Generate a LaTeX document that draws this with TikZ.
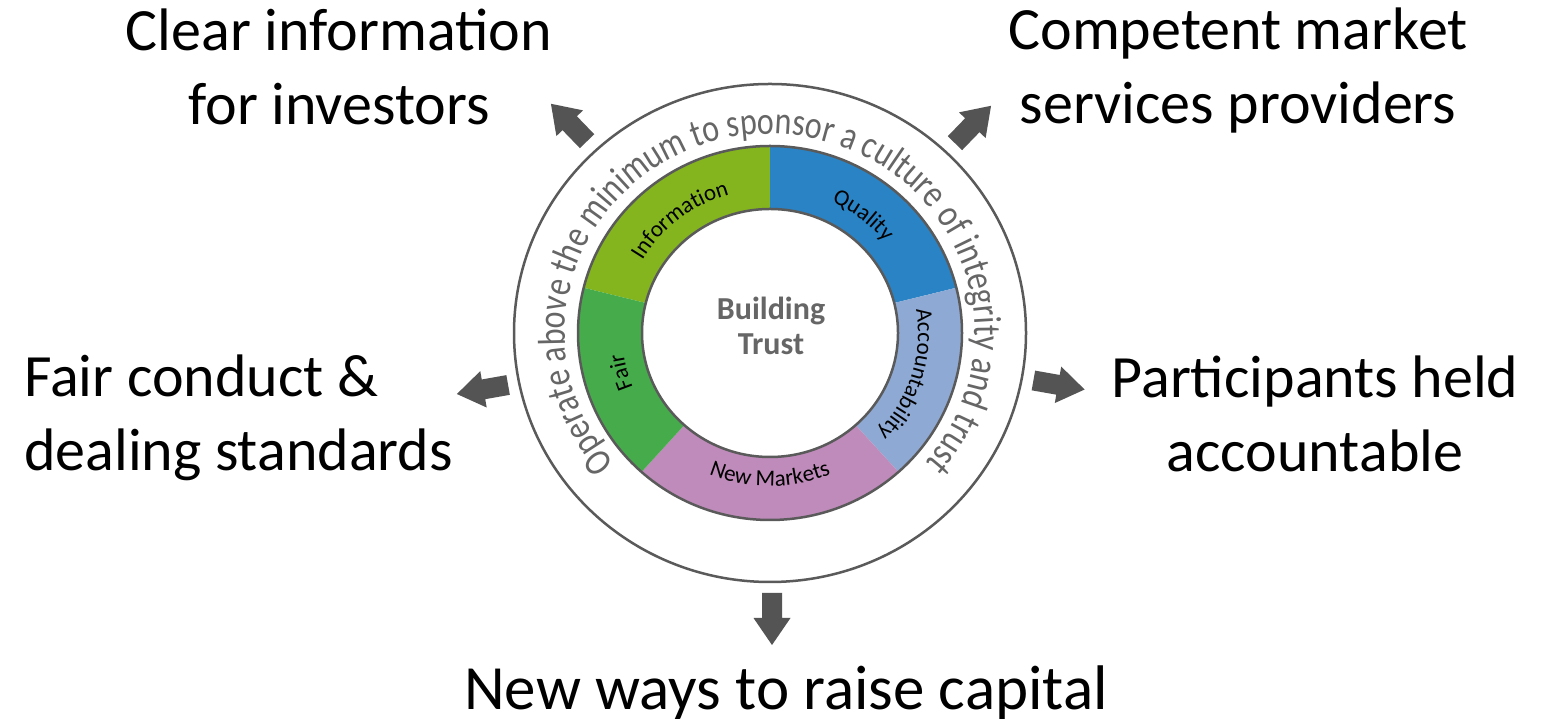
\documentclass[tikz,border=0pt]{standalone}
\usepackage{fontspec}
\setmainfont{Carlito}
\newfontfamily\mottoface[FakeStretch=0.82]{Carlito}
\usetikzlibrary{decorations.text}

\definecolor{infogreen}{RGB}{132,181,30}
\definecolor{fairgreen}{RGB}{70,172,75}
\definecolor{qualblue}{RGB}{41,131,196}
\definecolor{acctblue}{RGB}{142,169,211}
\definecolor{mktpink}{RGB}{191,139,186}
\definecolor{rimgray}{RGB}{90,90,90}
\definecolor{arrowgray}{RGB}{84,84,84}
\definecolor{mottogray}{RGB}{102,102,102}

% fonts
\newcommand\lblfont{\fontsize{60}{74}\selectfont}
\newcommand\mottofont{\mottoface\fontsize{39}{42}\selectfont}
\newcommand\segfont{\fontsize{23}{25}\selectfont}

% one coloured sector of the ring: start angle, end angle, colour
\newcommand\ringsector[3]{%
  \fill[#3] ({192*cos(#1)},{187*sin(#1)})
    arc[start angle=#1, end angle=#2, x radius=192, y radius=187]
    -- ({128*cos(#2)},{124*sin(#2)})
    arc[start angle=#2, end angle=#1, x radius=128, y radius=124] -- cycle;}

% block arrow: centre x, centre y, direction
\newcommand\blockarrow[3]{%
  \fill[arrowgray, shift={(#1,#2)}, rotate=#3]
    (-26,-10) -- (-1,-10) -- (-1,-18.5) -- (26,0) -- (-1,18.5) -- (-1,10)
    -- (-26,10) -- cycle;}

\tikzset{
  label/.style={font=\lblfont, text=black, inner sep=0pt},
  rim/.style={draw=rimgray, line width=2.5pt},
}

\begin{document}
\begin{tikzpicture}[x=1pt, y=1pt]
\fill[white] (0,0) rectangle (1542,719);
\useasboundingbox (0,0) rectangle (1542,719);

\begin{scope}[shift={(770,386)}]
  % outer circle
  \draw[rim] (0,0) ellipse[x radius=256, y radius=249];

  % coloured ring
  \ringsector{90}{166}{infogreen}
  \ringsector{14}{90}{qualblue}
  \ringsector{-48}{14}{acctblue}
  \ringsector{-132}{-48}{mktpink}
  \ringsector{166}{228}{fairgreen}
  \draw[rim] (0,0) ellipse[x radius=192, y radius=187];
  \draw[rim] (0,0) ellipse[x radius=128, y radius=124];

  % motto around the ring
  \path[decorate, decoration={text along path, text align=center,
      text={|\mottofont\color{mottogray}|Operate above the minimum to sponsor a culture of integrity and trust}}]
    ({205*cos(250)},{199*sin(250)})
    arc[start angle=250, end angle=-70, x radius=205, y radius=199];

  % sector labels
  \path[decorate, decoration={text along path, text align=center,
      text={|\segfont|Information}}]
    ({148*cos(168)},{144*sin(168)})
    arc[start angle=168, end angle=88, x radius=148, y radius=144];
  \path[decorate, decoration={text along path, text align=center,
      text={|\segfont|Quality}}]
    ({148*cos(92)},{144*sin(92)})
    arc[start angle=92, end angle=12, x radius=148, y radius=144];
  \path[decorate, decoration={text along path, text align=center,
      text={|\segfont|Accountability}}]
    ({148*cos(23)},{144*sin(23)})
    arc[start angle=23, end angle=-57, x radius=148, y radius=144];
  \path[decorate, decoration={text along path, text align=center,
      text={|\segfont|Fair}}]
    ({148*cos(235)},{144*sin(235)})
    arc[start angle=235, end angle=155, x radius=148, y radius=144];
  \path[decorate, decoration={text along path, text align=center,
      text={|\segfont|New Markets}}]
    ({158*cos(-130)},{153*sin(-130)})
    arc[start angle=-130, end angle=-50, x radius=158, y radius=153];

  % outward arrows
  \blockarrow{-201}{210.5}{134}
  \blockarrow{203}{208.5}{46}
  \blockarrow{-287.5}{-56.5}{190}
  \blockarrow{289}{-52}{-10}
  \blockarrow{2}{-286}{-90}
\end{scope}

% centre title
\node[font=\fontsize{32}{35}\selectfont\bfseries, text=mottogray, inner sep=0pt, anchor=base]
  (title) at (771,399) {\begin{tabular}[t]{@{}c@{}}Building\\Trust\end{tabular}};

% outer labels
\node[label, anchor=base] (clearinfo) at (339,668)
  {\begin{tabular}[t]{@{}c@{}}Clear information\\for investors\end{tabular}};
\node[label, anchor=base] (competent) at (1238,669)
  {\begin{tabular}[t]{@{}c@{}}Competent market\\services providers\end{tabular}};
\node[label, anchor=base west] (fairconduct) at (24,322)
  {\begin{tabular}[t]{@{}l@{}}Fair conduct \&\\dealing standards\end{tabular}};
\node[label, anchor=base] (accountable) at (1315,321)
  {\begin{tabular}[t]{@{}c@{}}Participants held\\accountable\end{tabular}};
\node[label, font=\fontsize{63}{74}\selectfont, anchor=base] (newways) at (786,9)
  {New ways to raise capital};
\end{tikzpicture}
\end{document}
